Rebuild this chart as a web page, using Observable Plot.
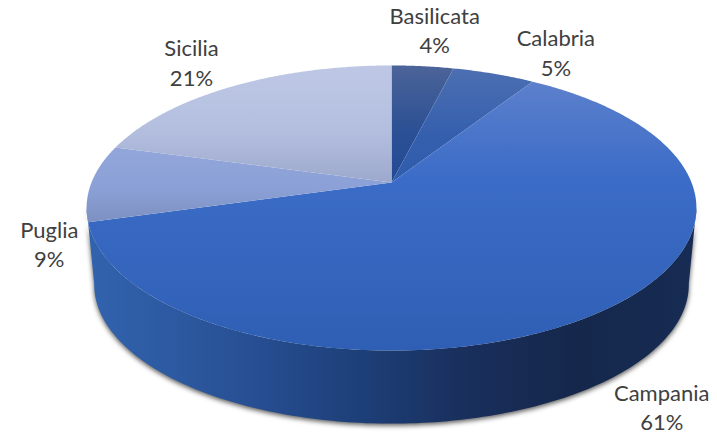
<!DOCTYPE html>
<html>
<head>
<meta charset="utf-8">
<script src="https://cdn.jsdelivr.net/npm/d3@7"></script>
<script src="https://cdn.jsdelivr.net/npm/@observablehq/plot@0.6"></script>
<style>html,body{margin:0;padding:0;background:#fff}svg{display:block}</style>
</head>
<body>
<div id="chart"></div>
<script>
const regions = ["Basilicata", "Calabria", "Campania", "Puglia", "Sicilia"];
const shares = [3.9, 5.2, 61.49, 8.7, 20.71];
const labelDx = [12, 62, 24, -42, -41];
const labelDy = [-37, -22, 71, 60, -25];
const labelRadius = [1, 1, 1.15, 1, 1];
const gradients = {
  Basilicata: [["0%", "#4c6499"], ["55%", "#2c5094"], ["100%", "#224a94"]],
  Calabria: [["0%", "#4d6fb2"], ["60%", "#345fad"], ["100%", "#2f5cac"]],
  Campania: [["0%", "#5c80cc"], ["36%", "#3b6cc7"], ["100%", "#2f5fb4"]],
  Puglia: [["0%", "#92a6da"], ["55%", "#8ba0d6"], ["100%", "#7c90c0"]],
  Sicilia: [["0%", "#bec8e5"], ["55%", "#b4bfe0"], ["100%", "#9da9cc"]]
};
const sideStops = [["0%", "#3263ae"], ["12%", "#2d5ba3"], ["28%", "#274e92"], ["45%", "#1d3f78"], ["62%", "#192f5c"], ["80%", "#15274b"], ["100%", "#172c54"]];

const k = 0.179;
const rimCenter = 0.185;
const sideScale = 0.975;
const sideDepth = 0.555;

function project(theta, r = 1) {
  const ux = r * Math.sin(theta), uy = -r * Math.cos(theta), w = 1 - k * uy;
  return {x: ux / w, y: uy / w};
}
function lowered(theta) {
  const p = project(theta);
  return {x: p.x * sideScale, y: (p.y - rimCenter) * sideScale + rimCenter + sideDepth};
}
const deg = Math.PI / 180;
const cumulative = d3.cumsum(shares);
const wedges = regions.map((name, i) => {
  const a0 = (i ? cumulative[i - 1] : 0) * 3.6, a1 = cumulative[i] * 3.6;
  const pts = [{x: 0, y: 0}];
  for (let a = a0; a < a1; a += 0.5) pts.push(project(a * deg));
  pts.push(project(a1 * deg));
  return {name, pts, mid: (a0 + a1) / 2};
});
// The side wall: the rim's widest points joined along the lowered front rim.
const side = [];
for (let a = 100; a <= 260; a += 1) side.push(lowered(a * deg));
for (let a = 260; a >= 100; a -= 1) side.push(project(a * deg));

function defs() {
  const d = d3.create("svg:defs");
  const grad = (id, stops, horizontal) => {
    const g = d.append("linearGradient").attr("id", id)
      .attr("x1", 0).attr("y1", 0).attr("x2", horizontal ? 1 : 0).attr("y2", horizontal ? 0 : 1);
    stops.forEach(([o, c]) => g.append("stop").attr("offset", o).attr("stop-color", c));
  };
  regions.forEach(n => grad("g" + n, gradients[n], false));
  grad("gSide", sideStops, true);
  return d.node();
}

const marks = [
  defs,
  Plot.line(side, {x: "x", y: "y", fill: "url(#gSide)", stroke: "none",
    imageFilter: "drop-shadow(0 2px 2.5px rgba(0,0,0,.65))"}),
  ...wedges.map(w => Plot.line(w.pts, {x: "x", y: "y", fill: `url(#g${w.name})`, stroke: "none"})),
  ...wedges.map((w, i) => {
    const p = project(w.mid * deg, labelRadius[i]);
    return Plot.text([{...p, t: `${w.name}\n${Math.round(shares[i])}%`}], {
      x: "x", y: "y", text: "t", dx: labelDx[i], dy: labelDy[i],
      fontSize: 22, lineHeight: 1.34, fill: "#404040"
    });
  })
];

const chart = Plot.plot({
  width: 717, height: 435, margin: 0,
  style: {fontFamily: "Lato, sans-serif", background: "#fff", overflow: "visible"},
  x: {domain: [-1, 1], range: [91, 691], axis: null},
  y: {domain: [-1, 1], range: [44, 320], axis: null},
  marks
});
document.getElementById("chart").append(chart);
</script>
</body>
</html>
